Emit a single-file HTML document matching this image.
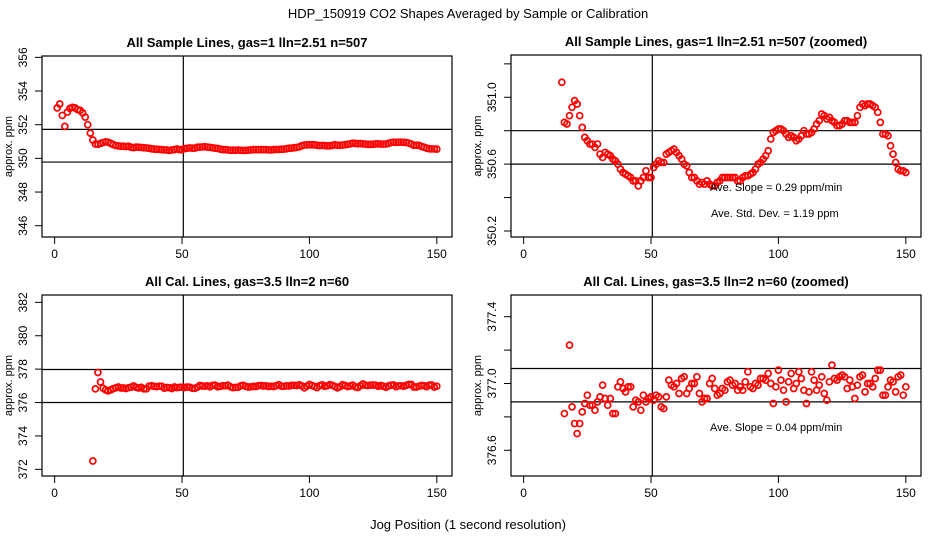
<!DOCTYPE html>
<html><head><meta charset="utf-8">
<style>
html,body{margin:0;padding:0;background:#fff;width:936px;height:540px;overflow:hidden;}
svg{display:block;font-family:"Liberation Sans",Arial,sans-serif;}
</style></head>
<body>
<svg id="chart" width="936" height="540" viewBox="0 0 936 540">
<rect width="936" height="540" fill="#fff"/>
<text x="468" y="18" text-anchor="middle" font-size="13">HDP_150919  CO2 Shapes Averaged by Sample or Calibration</text>
<text x="468" y="529" text-anchor="middle" font-size="13">Jog Position (1 second resolution)</text>
</svg>
<script>
// ---- data ----
const sampleX = [];
for (let i = 1; i <= 150; i++) sampleX.push(i);
const sampleVals = [
353.0,353.23,352.55,351.9,352.75,352.97,353.03,353.0,352.9,352.85,352.7,352.45,352.0,351.5,
351.09,350.85,350.84,350.89,350.94,350.98,350.96,350.89,350.82,350.76,350.74,350.72,350.72,350.70,350.72,350.66,
350.64,350.67,350.66,350.65,350.63,350.62,350.60,350.57,350.55,350.54,350.53,350.52,350.50,350.50,350.47,350.50,
350.52,350.56,350.52,350.52,350.58,350.60,350.62,350.61,350.61,350.66,350.67,350.68,350.69,350.67,350.65,350.63,
350.60,350.59,350.55,350.52,350.52,350.50,350.48,350.49,350.48,350.50,350.48,350.47,350.47,350.49,350.50,350.52,
350.52,350.52,350.52,350.52,350.52,350.50,350.50,350.52,350.53,350.53,350.54,350.55,350.57,350.60,350.61,350.63,
350.65,350.68,350.75,350.79,350.80,350.81,350.81,350.80,350.78,350.76,350.77,350.76,350.74,350.75,350.77,350.80,
350.78,350.78,350.79,350.81,350.84,350.86,350.90,350.89,350.87,350.88,350.86,350.85,350.83,350.83,350.84,350.86,
350.86,350.85,350.85,350.85,350.89,350.94,350.96,350.95,350.96,350.96,350.95,350.94,350.91,350.85,350.78,350.78,
350.77,350.71,350.66,350.61,350.57,350.56,350.56,350.55];
const calX = [];
for (let i = 15; i <= 150; i++) calX.push(i);
const calVals = [
372.5,376.82,377.8,377.23,376.86,376.76,376.70,376.76,376.83,376.88,376.93,376.87,376.87,376.84,376.89,376.92,
376.99,376.91,376.87,376.91,376.82,376.82,376.98,377.01,376.97,376.95,376.98,376.98,376.86,376.90,376.89,376.84,
376.93,376.89,376.91,376.92,376.90,376.93,376.92,376.86,376.85,376.92,377.02,376.99,376.98,377.00,376.94,377.03,
377.04,376.94,376.97,377.00,377.00,377.04,376.94,376.89,376.91,376.91,377.00,377.03,376.97,376.93,376.94,376.97,
376.96,377.01,377.02,376.99,377.00,376.96,376.98,376.96,377.01,377.07,376.98,376.97,377.00,376.99,377.03,377.03,
377.02,377.06,377.00,376.88,376.98,377.08,377.02,376.96,376.89,377.01,377.06,376.97,377.00,377.07,377.03,376.96,
376.88,376.95,377.07,377.02,376.96,376.99,377.04,376.94,376.90,377.01,377.11,377.03,377.02,377.04,377.05,377.04,
376.97,377.02,376.98,376.91,376.99,377.04,377.05,376.95,377.00,377.00,376.98,377.03,377.08,377.08,376.93,376.93,
376.98,377.02,377.01,376.95,377.04,377.05,376.93,376.98];
const xTicks = [0, 50, 100, 150];
const p1Ticks = [346, 348, 350, 352, 354, 356];
const p2Ticks = [350.2, 350.4, 350.6, 350.8, 351.0, 351.2];
const p2Labels = ["350.2", "", "350.6", "", "351.0", ""];
const p3Ticks = [372, 374, 376, 378, 380, 382];
const p4Ticks = [376.6, 376.8, 377.0, 377.2, 377.4];
const p4Labels = ["376.6", "", "377.0", "", "377.4"];
const p1HLines = [351.72, 349.78];
const p2HLines = [350.8, 350.6];
const p3HLines = [377.98, 376.0];
const p4HLines = [377.09, 376.89];
const vLine = 50.5;

const NS = "http://www.w3.org/2000/svg";
const svg = document.getElementById('chart');
function mk(tag, attrs, parent) {
  const e = document.createElementNS(NS, tag);
  for (const k in attrs) e.setAttribute(k, attrs[k]);
  (parent || svg).appendChild(e);
  return e;
}

function panel(cfg) {
  const g = mk('g', {});
  
  
  const L = cfg.box[0], R = cfg.box[1], T = cfg.box[2], B = cfg.box[3];
  const xmin = -4.96, xmax = 155.96;
  const sx = v => L + (v - xmin) / (xmax - xmin) * (R - L);
  const sy = v => B - (v - cfg.ylo) / (cfg.yhi - cfg.ylo) * (B - T);

  const title = mk('text', {x: (L + R) / 2, y: T - 9, 'text-anchor': 'middle', 'font-size': 13, 'font-weight': 'bold'}, g);
  title.textContent = cfg.title;
  
  

  xTicks.forEach(t => {
    const x = sx(t);
    mk('line', {x1: x, x2: x, y1: B, y2: B + 7, stroke: '#000', 'stroke-width': 1}, g);
    const tx = mk('text', {x: x, y: B + 21, 'text-anchor': 'middle', 'font-size': 12}, g);
    tx.textContent = t;
    
    
  });
  cfg.yTicks.forEach((t, i) => {
    const y = sy(t);
    mk('line', {x1: L - 7, x2: L, y1: y, y2: y, stroke: '#000', 'stroke-width': 1}, g);
    const lab = cfg.yLabels ? cfg.yLabels[i] : String(t);
    if (lab) {
      const tx = mk('text', {x: 0, y: 0, 'text-anchor': 'middle', 'font-size': 12,
        transform: 'translate(' + (L - 15) + ',' + y + ') rotate(-90)'}, g);
      tx.textContent = lab;
      
      
    }
  });
  const yl = mk('text', {x: 0, y: 0, 'text-anchor': 'middle', 'font-size': 11,
    transform: 'translate(' + (L - 30) + ',' + ((T + B) / 2) + ') rotate(-90)'}, g);
  yl.textContent = 'approx. ppm';
  
  

  cfg.hLines.forEach(v => {
    const l = mk('line', {x1: L, x2: R, y1: sy(v), y2: sy(v), stroke: '#000', 'stroke-width': 1.2}, g);
    
    
  });
  const vl = mk('line', {x1: sx(vLine), x2: sx(vLine), y1: T, y2: B, stroke: '#000', 'stroke-width': 1.2}, g);
  
  

  const pg = mk('g', {}, g);
  
  
  cfg.xs.forEach((xv, i) => {
    const yv = cfg.ys[i];
    const cy = sy(yv);
    if (cy < T + 2 || cy > B - 2) return;
    const c = mk('circle', {cx: sx(xv), cy: cy, r: 3, fill: 'none', stroke: '#ff0000', 'stroke-width': 1.7}, pg);
    
    
  });

  const fr = mk('rect', {x: L, y: T, width: R - L, height: B - T, fill: 'none', stroke: '#000', 'stroke-width': 1.2}, g);
  
  

  (cfg.notes || []).forEach(n => {
    const t = mk('text', {x: n[0], y: n[1], 'font-size': 11, 'xml:space': 'preserve'}, g);
    t.textContent = n[2];
    
    
  });
}

panel({name: 'sample-panel', title: 'All Sample Lines, gas=1 lln=2.51 n=507', box: [42, 452, 56, 237],
  ylo: 345.33, yhi: 356.08, yTicks: p1Ticks, hLines: p1HLines, xs: sampleX, ys: sampleVals});
panel({name: 'sample-zoomed-panel', title: 'All Sample Lines, gas=1 lln=2.51 n=507 (zoomed)', box: [511, 921, 55, 237],
  ylo: 350.164, yhi: 351.253, yTicks: p2Ticks, yLabels: p2Labels, hLines: p2HLines, xs: sampleX, ys: sampleVals,
  notes: [[710, 191, 'Ave. Slope =  0.29  ppm/min'], [711, 217, 'Ave. Std. Dev. =  1.19  ppm']]});
panel({name: 'cal-panel', title: 'All Cal. Lines, gas=3.5 lln=2 n=60', box: [42, 452, 295, 476],
  ylo: 371.6, yhi: 382.44, yTicks: p3Ticks, hLines: p3HLines, xs: calX, ys: calVals});
panel({name: 'cal-zoomed-panel', title: 'All Cal. Lines, gas=3.5 lln=2 n=60 (zoomed)', box: [511, 921, 295, 476],
  ylo: 376.446, yhi: 377.53, yTicks: p4Ticks, yLabels: p4Labels, hLines: p4HLines, xs: calX, ys: calVals,
  notes: [[710, 431, 'Ave. Slope =  0.04  ppm/min']]});
</script>
</body></html>
